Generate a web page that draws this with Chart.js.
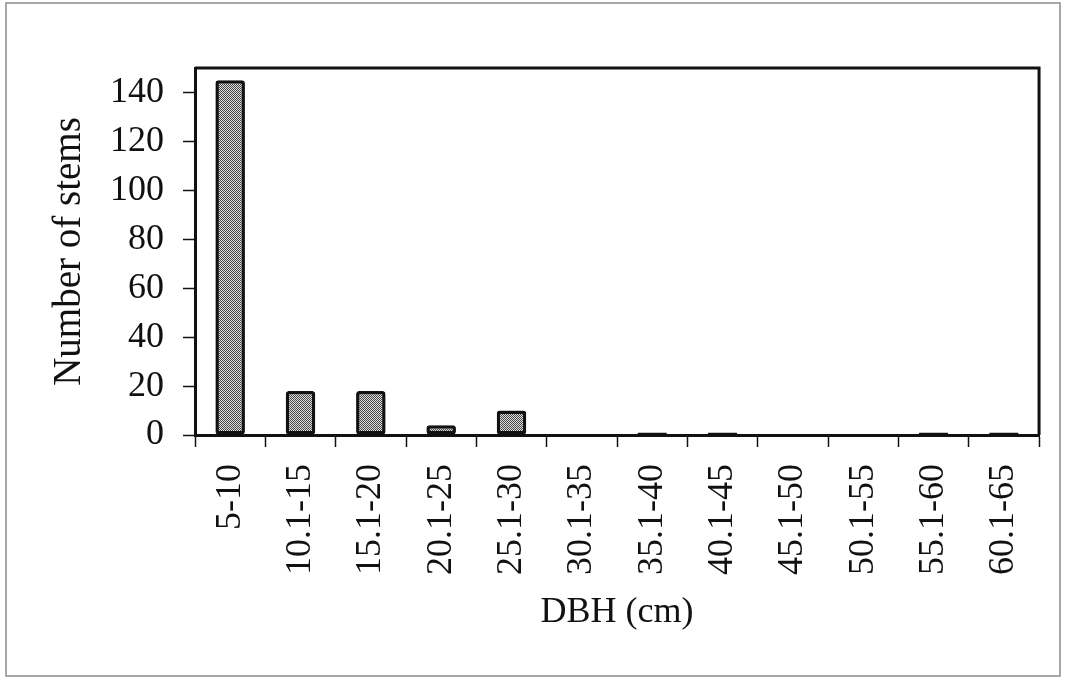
<!DOCTYPE html>
<html>
<head>
<meta charset="utf-8">
<script src="https://cdn.jsdelivr.net/npm/chart.js@4/dist/chart.umd.min.js"></script>
<style>
  html, body { margin: 0; padding: 0; background: #fff; }
  #wrap { width: 1065px; height: 679px; }
</style>
</head>
<body>
<div id="wrap"><canvas id="c" width="1065" height="679"></canvas></div>
<script>
const categories = ["5-10","10.1-15","15.1-20","20.1-25","25.1-30","30.1-35","35.1-40","40.1-45","45.1-50","50.1-55","55.1-60","60.1-65"];
const stems = [145, 18, 18, 4, 10, 0, 1, 1, 0, 0, 1, 1];
const yTicks = [0, 20, 40, 60, 80, 100, 120, 140];

const FONT = "'Liberation Serif', 'Times New Roman', serif";

// checkered fill
const pc = document.createElement('canvas');
pc.width = 2; pc.height = 2;
const pctx = pc.getContext('2d');
pctx.fillStyle = '#dedede'; pctx.fillRect(0,0,2,2);
pctx.fillStyle = '#474747'; pctx.fillRect(0,0,1,1); pctx.fillRect(1,1,1,1);
const pattern = pctx.createPattern(pc, 'repeat');

const framePlugin = {
  id: 'frame',
  beforeDraw(chart) {
    const ctx = chart.ctx;
    ctx.save();
    ctx.fillStyle = '#fff';
    ctx.fillRect(0, 0, chart.width, chart.height);
    ctx.strokeStyle = '#8a8a8a';
    ctx.lineWidth = 1.5;
    ctx.strokeRect(6, 3, 1054, 673);
    ctx.restore();
  },
  afterDraw(chart) {
    const a = chart.chartArea;
    const ctx = chart.ctx;
    ctx.save();
    ctx.strokeStyle = '#111';
    ctx.lineWidth = 3;
    ctx.beginPath();
    ctx.moveTo(a.left, a.top);
    ctx.lineTo(a.right, a.top);
    ctx.lineTo(a.right, a.bottom);
    ctx.stroke();
    ctx.restore();
  }
};

new Chart(document.getElementById('c'), {
  type: 'bar',
  data: {
    labels: categories,
    datasets: [{
      data: stems,
      backgroundColor: pattern,
      borderColor: '#111',
      borderWidth: 3.5,
      borderRadius: 3,
      borderSkipped: false,
      categoryPercentage: 1,
      barPercentage: 0.42
    }]
  },
  options: {
    responsive: false,
    animation: false,
    devicePixelRatio: 1,
    layout: { padding: { left: 0, top: 68, right: 22, bottom: 0 } },
    plugins: { legend: { display: false }, tooltip: { enabled: false } },
    scales: {
      x: {
        grid: { display: true, drawOnChartArea: false, drawTicks: true, tickLength: 12, tickColor: '#111', tickWidth: 1.5, offset: true },
        border: { display: true, color: '#111', width: 3 },
        ticks: { color: '#111', font: { family: FONT, size: 36 }, minRotation: 90, maxRotation: 90, padding: 17, autoSkip: false },
        title: { display: true, text: 'DBH (cm)', color: '#111', font: { family: FONT, size: 36 }, padding: { top: 0, bottom: 45 } },
        afterFit(scale) { scale.height = 679 - 435; }
      },
      y: {
        min: 0, max: 150,
        grid: { display: true, drawOnChartArea: false, drawTicks: true, tickLength: 12, tickColor: '#111', tickWidth: 1.5 },
        border: { display: true, color: '#111', width: 3 },
        ticks: { color: '#111', font: { family: FONT, size: 36 }, stepSize: 20, padding: 19 },
        afterBuildTicks(scale) { scale.ticks = yTicks.map(v => ({ value: v })); },
        title: { display: true, text: 'Number of stems', color: '#111', font: { family: FONT, size: 39 }, padding: { top: 46, bottom: 0 } },
        afterFit(scale) { scale.width = 195; }
      }
    }
  },
  plugins: [framePlugin]
});
</script>
</body>
</html>
